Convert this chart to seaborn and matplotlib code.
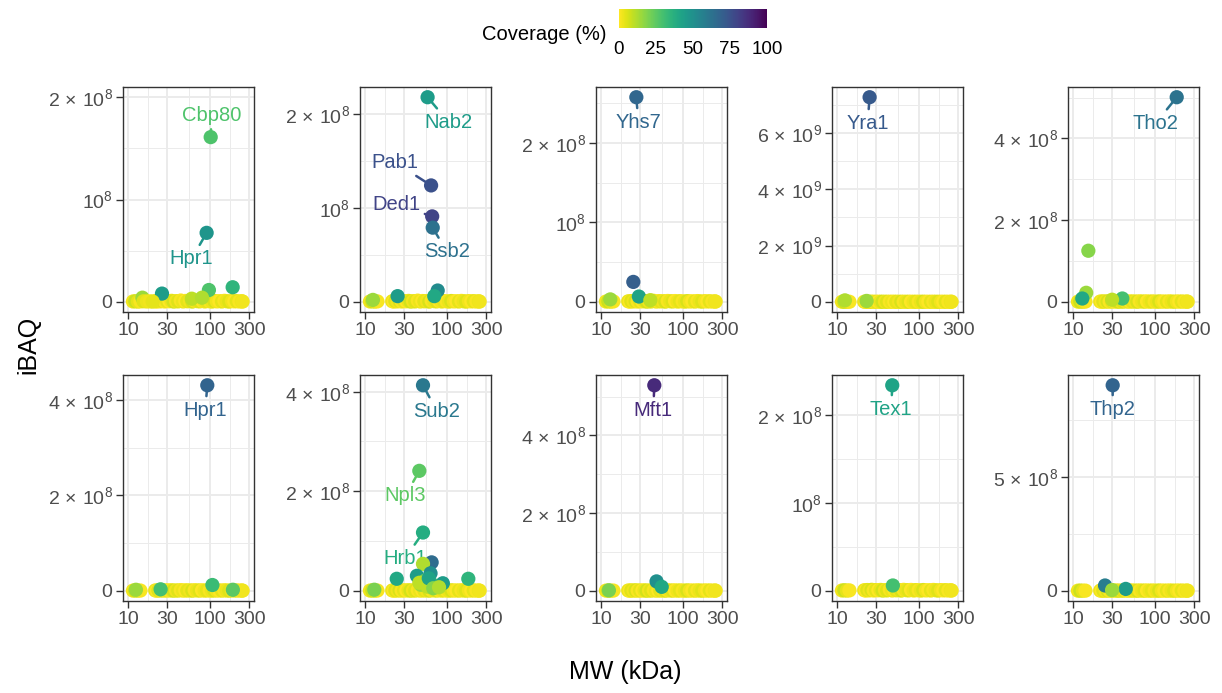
import numpy as np
import pandas as pd
import matplotlib
matplotlib.use("Agg")
import matplotlib.pyplot as plt
import matplotlib as mpl
import seaborn as sns
from matplotlib.ticker import FixedLocator, FuncFormatter, MultipleLocator

sns.set_theme(style="white")
plt.rcParams["font.family"] = ["Liberation Sans", "DejaVu Sans"]
plt.rcParams["mathtext.fontset"] = "custom"
plt.rcParams["mathtext.rm"] = "Liberation Sans"
plt.rcParams["mathtext.it"] = "Liberation Sans:italic"
plt.rcParams["mathtext.bf"] = "Liberation Sans:bold"

# ---------------- data ----------------
# labelled (highlighted) proteins, panel index 0..9 (row-major, 2 x 5)
HL_PANEL = [0, 0, 1, 1, 1, 1, 2, 3, 4, 5, 6, 6, 6, 7, 8, 9]
HL_NAME = ["Cbp80", "Hpr1", "Nab2", "Pab1", "Ded1", "Ssb2", "Yhs7", "Yra1",
           "Tho2", "Hpr1", "Sub2", "Npl3", "Hrb1", "Mft1", "Tex1", "Thp2"]
HL_MW = [102, 91, 58, 64, 66, 67, 27, 25, 184, 92.7, 51, 46, 51, 44.7, 47.2, 30.5]
HL_IBAQ = [1.61e8, 0.674e8, 2.18e8, 1.24e8, 0.91e8, 0.79e8, 2.575e8, 7.27e9,
           5.01e8, 4.31e8, 4.13e8, 2.41e8, 1.17e8, 5.29e8, 2.345e8, 9.01e8]
HL_COV = [28, 48, 45, 75, 80, 63, 67, 72, 62, 68, 60, 25, 38, 88, 42, 68]

# other visible (unlabelled) proteins
MIN_PANEL = [0, 0, 0, 0, 0, 0, 0, 0, 0, 0,
             1, 1, 1, 1,
             2, 2, 2, 2,
             3, 3,
             4, 4, 4, 4, 4,
             5, 5, 5, 5,
             6, 6, 6, 6, 6, 6, 6, 6, 6, 6, 6, 6, 6, 6, 6, 6,
             7, 7, 7,
             8,
             9, 9, 9]
MIN_MW = [189, 97, 26, 15, 60, 80, 15.5, 17, 18.5, 20,
          77, 25, 12.5, 70,
          24.8, 29, 13, 40,
          12.5, 23,
          15.4, 14.5, 13, 40, 30,
          107, 12.5, 25, 190,
          65, 51, 24.4, 182, 43, 63, 74, 89, 54, 48, 58, 13, 46, 60, 68, 80,
          47.6, 55, 12.5,
          48,
          24.6, 44, 30]
MIN_IBAQ = [0.142e8, 0.115e8, 0.08e8, 0.04e8, 0.03e8, 0.04e8, 0.005e8, 0.003e8, 0.004e8, 0.002e8,
            0.12e8, 0.06e8, 0.02e8, 0.06e8,
            0.25e8, 0.066e8, 0.03e8, 0.02e8,
            0.05e9, 0.03e9,
            1.25e8, 0.22e8, 0.08e8, 0.08e8, 0.05e8,
            0.12e8, 0.02e8, 0.03e8, 0.02e8,
            0.57e8, 0.54e8, 0.24e8, 0.24e8, 0.30e8, 0.35e8, 0.10e8, 0.15e8, 0.20e8, 0.12e8,
            0.08e8, 0.02e8, 0.16e8, 0.25e8, 0.05e8, 0.07e8,
            0.24e8, 0.10e8, 0.01e8,
            0.06e8,
            0.23e8, 0.08e8, 0.03e8]
MIN_COV = [35, 28, 45, 15, 10, 12, 5, 3, 2, 4,
           52, 45, 15, 40,
           70, 42, 15, 10,
           12, 15,
           18, 15, 40, 30, 10,
           32, 15, 30, 25,
           65, 12, 40, 35, 45, 50, 30, 45, 20, 15, 10, 20, 10, 42, 18, 12,
           50, 40, 20,
           30,
           58, 45, 15]

# background proteins (near zero abundance, shared MW grid, every panel)
BG_MW = [11.5, 12.3, 13.2, 14.2,
         21.5, 22.5, 23.5, 25, 26.5, 28, 30, 32, 34, 36, 38.5, 41, 44, 47, 50,
         53, 57, 61, 65, 70, 75, 80, 86, 92, 99, 106, 113, 121, 130, 140, 150,
         160, 172, 185, 198, 212, 228, 245, 250]
BG_IBAQ = [3e5, 5e5, 2e5, 4e5,
           6e5, 2e5, 8e5, 4e5, 1e6, 3e5, 7e5, 5e5, 9e5, 2e5, 6e5, 4e5, 1.2e6, 3e5, 8e5,
           5e5, 7e5, 2e5, 1e6, 6e5, 4e5, 9e5, 3e5, 7e5, 5e5, 2e5, 8e5, 4e5, 6e5, 3e5, 9e5,
           5e5, 2e5, 7e5, 4e5, 6e5, 3e5, 5e5, 2e5]
BG_COV = [2, 8, 4, 1,
          3, 0, 5, 2, 6, 1, 4, 0, 3, 7, 2, 5, 1, 3, 0,
          4, 2, 6, 1, 3, 5, 0, 2, 4, 1, 3, 6, 2, 0, 4, 1,
          3, 5, 2, 0, 4, 1, 3, 2]

# y axis upper data extent per panel and major step
PANEL_YMAX = [2.0e8, 2.18e8, 2.575e8, 7.27e9, 5.01e8, 4.31e8, 4.13e8, 5.29e8, 2.345e8, 9.01e8]
Y_STEP = [1e8, 1e8, 1e8, 2e9, 2e8, 2e8, 2e8, 2e8, 1e8, 5e8]

X_TICKS = [10, 30, 100, 300]

# label offsets in pixels (dx right, dy down) relative to the point
LBL_DX = [1, -15, 21, -36, -36, 14, 2, -2, -21, -2, 14, -14, -18, -1, -1, 0]
LBL_DY = [-22, 26, 25, -23, -12, 24, 25, 26, 26, 25, 26, 25, 26, 25, 24, 24]

# ---------------- figure ----------------
W, H = 1222, 693
fig = plt.figure(figsize=(W / 100, H / 100), dpi=100)
fig.patch.set_facecolor("white")

cmap = plt.get_cmap("viridis_r")
norm = mpl.colors.Normalize(0, 100)

PANEL_LEFT = [123, 360, 596, 832, 1068]
PANEL_W = 131
ROW_TOP = [87, 375]
ROW_BOT = [312, 601]


def yfmt(v, pos):
    if abs(v) < 1:
        return "0"
    e = int(np.floor(np.log10(abs(v)) + 1e-9))
    m = v / 10 ** e
    if abs(m - 1) < 1e-6:
        return r"$10^{%d}$" % e
    return r"$%g\,\times\,10^{%d}$" % (round(m, 3), e)


tick_col = "#4D4D4D"
for p in range(10):
    r, c = divmod(p, 5)
    l = PANEL_LEFT[c]
    ax = fig.add_axes([l / W, 1 - ROW_BOT[r] / H, PANEL_W / W,
                       (ROW_BOT[r] - ROW_TOP[r]) / H])
    rows = []
    for mw, y, cv in zip(BG_MW, BG_IBAQ, BG_COV):
        rows.append((mw, y, cv, 0))
    for pp, mw, y, cv in zip(MIN_PANEL, MIN_MW, MIN_IBAQ, MIN_COV):
        if pp == p:
            rows.append((mw, y, cv, 1))
    for pp, mw, y, cv in zip(HL_PANEL, HL_MW, HL_IBAQ, HL_COV):
        if pp == p:
            rows.append((mw, y, cv, 2))
    df = pd.DataFrame(rows, columns=["mw", "ibaq", "cov", "grp"])
    sns.scatterplot(data=df, x="mw", y="ibaq", hue="cov", palette="viridis_r",
                    hue_norm=(0, 100), s=105, linewidth=0, alpha=1,
                    legend=False, ax=ax, zorder=3)

    ax.set_xscale("log")
    ax.set_xlim(8.7, 344)
    ymax = PANEL_YMAX[p]
    ax.set_ylim(-0.05 * ymax, 1.05 * ymax)
    ax.xaxis.set_major_locator(FixedLocator(X_TICKS))
    ax.xaxis.set_minor_locator(FixedLocator([17.32, 54.77, 173.2]))
    ax.xaxis.set_major_formatter(FuncFormatter(lambda v, pos: "%g" % v))
    ax.xaxis.set_minor_formatter(FuncFormatter(lambda v, pos: ""))
    ax.yaxis.set_major_locator(MultipleLocator(Y_STEP[p]))
    ax.yaxis.set_minor_locator(MultipleLocator(Y_STEP[p] / 2))
    ax.yaxis.set_major_formatter(FuncFormatter(yfmt))

    ax.set_facecolor("white")
    ax.grid(which="major", color="#EBEBEB", lw=1.4, zorder=0)
    ax.grid(which="minor", color="#EBEBEB", lw=0.7, zorder=0)
    ax.set_axisbelow(True)
    for s in ax.spines.values():
        s.set_color("#333333")
        s.set_linewidth(1.0)
    ax.tick_params(which="major", direction="out", length=5, width=1.0,
                   color="#333333", labelcolor=tick_col, labelsize=14, pad=2.5,
                   bottom=True, left=True)
    ax.tick_params(which="minor", length=0)
    ax.set_xlabel("")
    ax.set_ylabel("")

    for i, pp in enumerate(HL_PANEL):
        if pp != p:
            continue
        col = cmap(norm(HL_COV[i]))
        ax.annotate(HL_NAME[i], xy=(HL_MW[i], HL_IBAQ[i]),
                    xytext=(LBL_DX[i], -LBL_DY[i]), textcoords="offset pixels",
                    ha="center", va="center", fontsize=14.5, color=col,
                    arrowprops=dict(arrowstyle="-", color=col, lw=1.8,
                                    shrinkA=1, shrinkB=0),
                    zorder=2)

# axis titles
fig.text(28 / W, 1 - 345 / H, "iBAQ", rotation=90, ha="center", va="center",
         fontsize=18, color="black")
fig.text(625 / W, 1 - 672 / H, "MW (kDa)", ha="center", va="center",
         fontsize=18, color="black")

# colourbar legend
cax = fig.add_axes([619 / W, 1 - 28 / H, 148 / W, 19 / H])
cb = mpl.colorbar.ColorbarBase(cax, cmap=cmap, norm=norm, orientation="horizontal",
                               ticks=[0, 25, 50, 75, 100])
cb.outline.set_visible(False)
cax.tick_params(axis="x", which="major", direction="in", length=4, width=1,
                color="white", top=True, bottom=True, labelsize=13.5,
                labelcolor="black", pad=9)
cax.minorticks_off()
fig.text(607 / W, 1 - 35 / H, "Coverage (%)", ha="right", va="center",
         fontsize=14.5, color="black")

fig.savefig("out.png", dpi=100, facecolor="white")
